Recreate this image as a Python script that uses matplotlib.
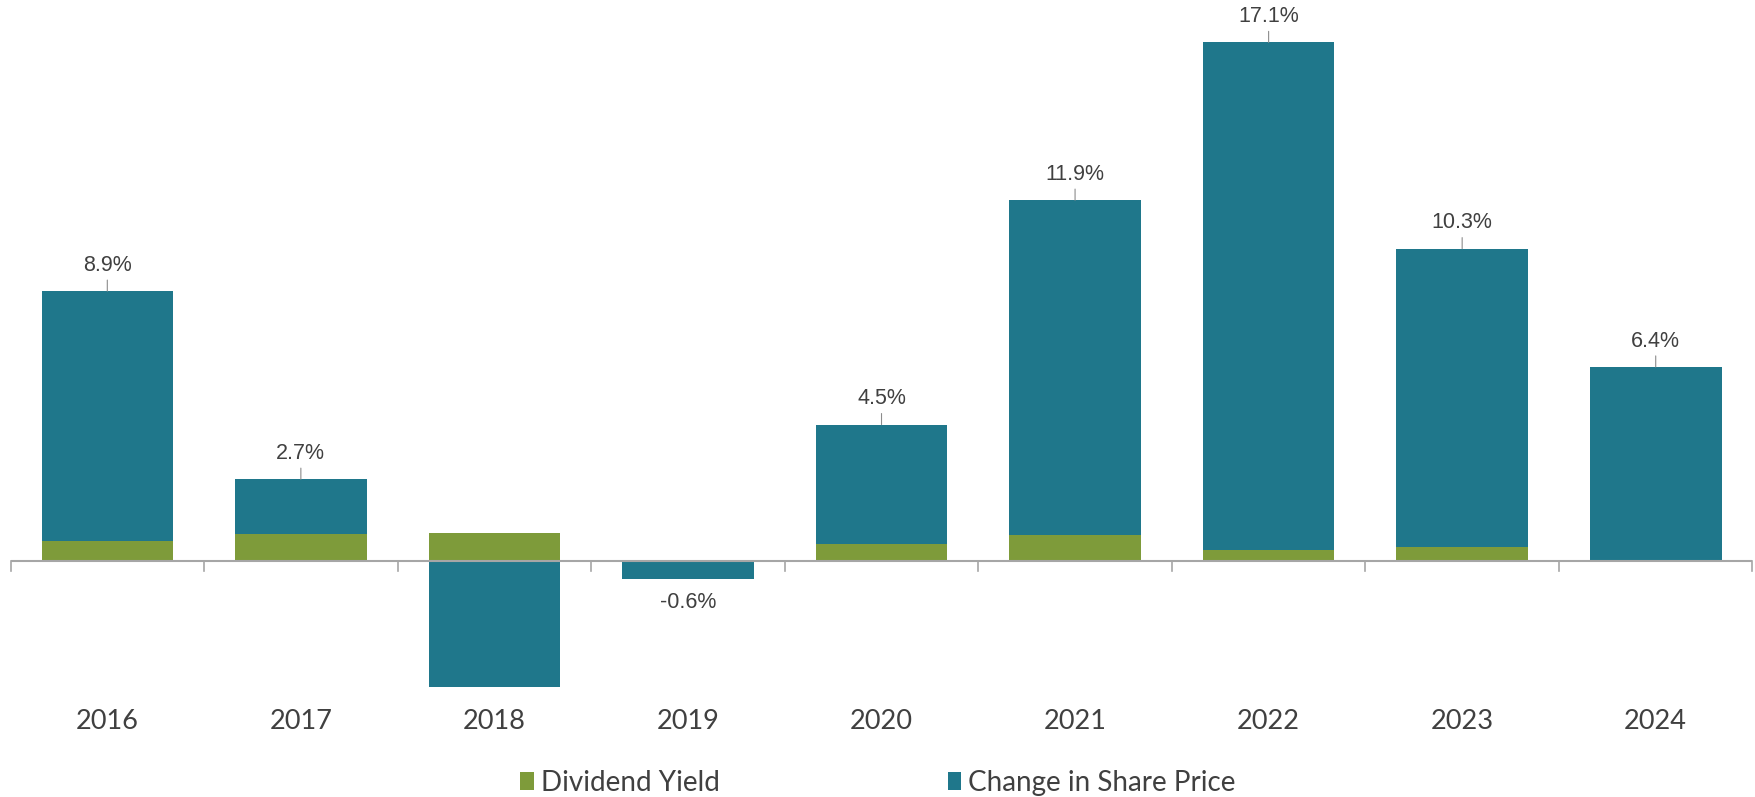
import matplotlib.pyplot as plt
import numpy as np

years = ["2016", "2017", "2018", "2019", "2020", "2021", "2022", "2023", "2024"]
dividend_yield = [0.66, 0.89, 0.93, 0.0, 0.58, 0.87, 0.37, 0.46, 0.0]
share_change = [8.24, 1.81, -5.2, -0.6, 3.92, 11.03, 16.73, 9.84, 6.4]
total_labels = ["8.9%", "2.7%", "", "-0.6%", "4.5%", "11.9%", "17.1%", "10.3%", "6.4%"]

TEAL = "#1f778b"
GREEN = "#7e9b3a"
AXIS_GREY = "#a6a6a6"

fig = plt.figure(figsize=(17.56, 7.97), dpi=100)
ax = fig.add_axes([0.006, 0.138, 0.992, 0.862])

x = np.arange(len(years))
div = np.array(dividend_yield)
chg = np.array(share_change)

# positive share changes stack on top of the dividend, negative ones hang below zero
chg_bottom = np.where(chg >= 0, div, 0.0)
ax.bar(x, div, width=0.68, color=GREEN, label="Dividend Yield", zorder=2)
ax.bar(x, chg, width=0.68, bottom=chg_bottom, color=TEAL,
       label="Change in Share Price", zorder=2)

totals = div + chg
for xi, tot, lab in zip(x, totals, total_labels):
    if not lab:
        continue
    if tot >= 0:
        ax.annotate(lab, xy=(xi, tot), xytext=(0, 11), textcoords="offset points",
                    ha="center", va="bottom", fontsize=15.5, color="#404040",
                    family="Liberation Sans",
                    arrowprops=dict(arrowstyle="-", color="#8c8c8c", lw=0.8,
                                    shrinkA=1, shrinkB=0))
    else:
        bottom = chg_bottom[xi] + chg[xi]
        ax.annotate(lab, xy=(xi, bottom), xytext=(0, -9), textcoords="offset points",
                    ha="center", va="top", fontsize=15.5, color="#404040",
                    family="Liberation Sans")

ax.set_xlim(-0.5, len(years) - 0.5)
ax.set_ylim(-4.15, 18.5)

for s in ["top", "right", "left", "bottom"]:
    ax.spines[s].set_visible(False)
ax.axhline(0, color=AXIS_GREY, lw=1.5, zorder=3)

# category separators drawn as short ticks below the zero line
for b in np.arange(-0.5, len(years), 1.0):
    ax.plot([b, b], [0, -0.33], color=AXIS_GREY, lw=1.2, zorder=3, clip_on=False)

ax.set_yticks([])
ax.set_xticks(x)
ax.set_xticklabels(years, fontsize=19.5, color="#404040", family="Lato")
ax.tick_params(axis="x", length=0, pad=16)

leg = fig.legend(loc="lower center", bbox_to_anchor=(0.5, 0.0), ncol=2,
                 frameon=False, prop={"family": "Lato", "size": 20},
                 handlelength=0.5, handleheight=0.6, handletextpad=0.25,
                 columnspacing=8.2, borderpad=0.05, borderaxespad=0.0)
for t in leg.get_texts():
    t.set_color("#404040")

fig.savefig("out.png", dpi=100)
